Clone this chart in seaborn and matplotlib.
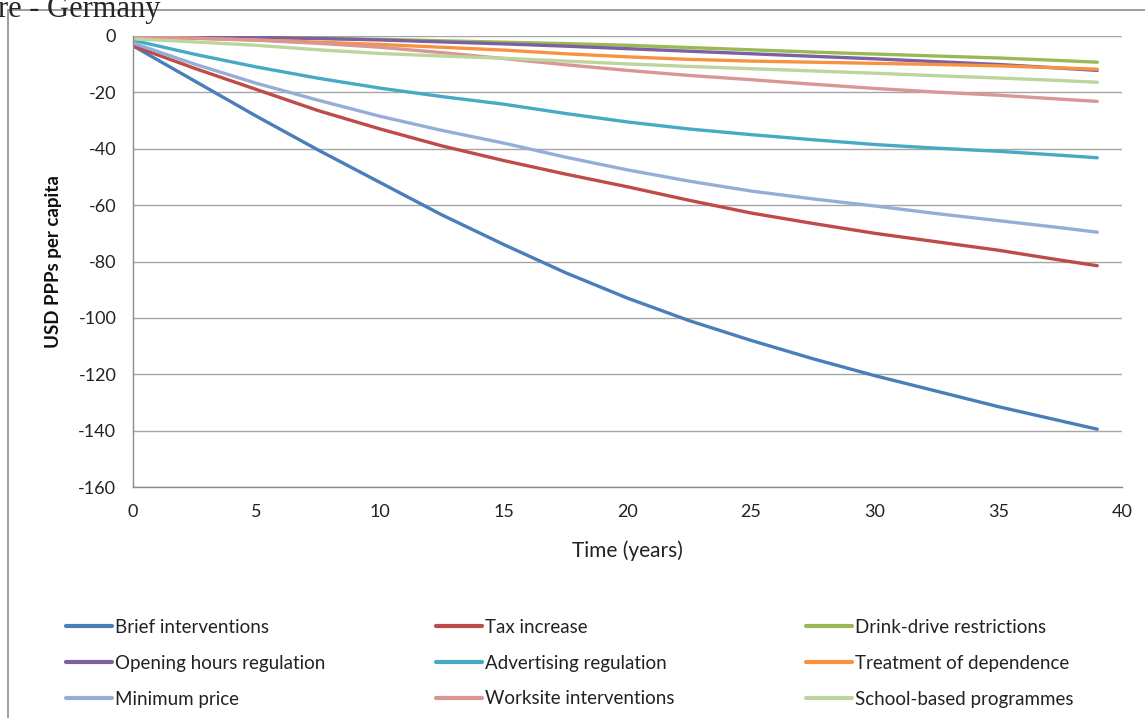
import numpy as np
import pandas as pd
import matplotlib
matplotlib.use("Agg")
import matplotlib.pyplot as plt
from matplotlib.lines import Line2D
from matplotlib.patches import Rectangle
import seaborn as sns

# years sampled off the chart
years = [0, 2.5, 5, 7.5, 10, 12.5, 15, 17.5, 20, 22.5, 25, 27.5, 30, 32.5, 35, 37.5, 39]

brief_interventions = [-3.5, -16, -28.5, -40.5, -52, -63.5, -74, -84, -93, -101,
                       -108, -114.5, -120.5, -126, -131.5, -136.5, -139.5]
tax_increase = [-3.5, -11.5, -19, -26.5, -33, -39, -44.2, -49, -53.5, -58.3,
                -62.8, -66.5, -70, -73, -76, -79.5, -81.5]
drink_drive = [0, -0.2, -0.4, -0.8, -1.2, -1.7, -2.2, -2.7, -3.3, -4.1,
               -4.9, -5.7, -6.4, -7.1, -7.8, -8.7, -9.3]
opening_hours = [0, -0.2, -0.5, -0.9, -1.4, -2.1, -2.8, -3.6, -4.5, -5.4,
                 -6.3, -7.2, -8.1, -9.1, -10.1, -11.4, -12.2]
advertising = [-1.5, -6.5, -11, -15, -18.5, -21.5, -24.2, -27.5, -30.5, -33,
               -35, -36.8, -38.5, -39.8, -40.9, -42.3, -43.2]
treatment = [-0.3, -0.8, -1.4, -2.2, -3.0, -4.0, -5.0, -6.3, -7.4, -8.3,
             -8.9, -9.3, -9.7, -10.1, -10.6, -11.3, -11.8]
minimum_price = [-2.5, -10, -16.8, -22.8, -28.5, -33.5, -38, -43, -47.5, -51.5,
                 -55, -57.8, -60.3, -63, -65.5, -68, -69.6]
worksite = [-0.3, -0.8, -1.5, -2.6, -4.0, -5.9, -8.0, -10.2, -12.2, -14,
            -15.5, -17.1, -18.6, -19.9, -21, -22.4, -23.2]
school_based = [-1, -2.1, -3.3, -4.9, -6.2, -7.1, -7.9, -8.9, -9.9, -10.8,
                -11.6, -12.4, -13.2, -14.1, -14.9, -15.8, -16.4]

series_names = [
    "Brief interventions", "Tax increase", "Drink-drive restrictions",
    "Opening hours regulation", "Advertising regulation", "Treatment of dependence",
    "Minimum price", "Worksite interventions", "School-based programmes",
]
series_values = [
    brief_interventions, tax_increase, drink_drive,
    opening_hours, advertising, treatment,
    minimum_price, worksite, school_based,
]
series_colors = [
    "#4A7EBB", "#BE4B48", "#98B954",
    "#7D60A0", "#46AAC5", "#F69240",
    "#95AED8", "#D99694", "#BCD59C",
]

y_ticks = list(range(-160, 1, 20))
x_ticks = list(range(0, 41, 5))

rows = []
for name, vals in zip(series_names, series_values):
    for yr, v in zip(years, vals):
        rows.append({"year": yr, "value": v, "series": name})
df = pd.DataFrame(rows)

sns.set_style("white")
plt.rcParams["font.family"] = ["Lato", "DejaVu Sans"]
plt.rcParams["axes.unicode_minus"] = False

fig = plt.figure(figsize=(11.45, 7.18), dpi=100)
ax = fig.add_axes([133 / 1145, 1 - 487 / 718, (1122 - 133) / 1145, (487 - 36) / 718])

palette = dict(zip(series_names, series_colors))
sns.lineplot(data=df, x="year", y="value", hue="series", hue_order=series_names,
             palette=palette, linewidth=2.4, legend=False, ax=ax, sort=False,
             solid_capstyle="round", solid_joinstyle="round")

ax.set_xlim(0, 40)
ax.set_ylim(-160, 0)
ax.set_xticks(x_ticks)
ax.set_yticks(y_ticks)
ax.set_xticklabels([str(t) for t in x_ticks])
ax.set_yticklabels([str(t) for t in y_ticks])
ax.yaxis.grid(True, color="#a6a6a6", linewidth=1.0)
ax.xaxis.grid(False)
ax.set_axisbelow(True)
for side in ["top", "right"]:
    ax.spines[side].set_visible(False)
for side in ["left", "bottom"]:
    ax.spines[side].set_color("#8c8c8c")
    ax.spines[side].set_linewidth(1.0)
ax.tick_params(axis="both", direction="out", length=4, width=1, color="#8c8c8c",
               labelsize=13, labelcolor="#222222", pad=8)

ax.set_xlabel("Time (years)", fontsize=15, color="#222222")
ax.xaxis.set_label_coords(0.5, -0.118)
ax.set_ylabel("USD PPPs per capita", fontsize=13.5, fontweight="bold", color="#111111")
ax.yaxis.set_label_coords(-0.072, 0.5)

# legend in three columns placed like the original
handles = [Line2D([0], [0], color=c, linewidth=3, solid_capstyle="round") for c in series_colors]
col_x = [66, 436, 806]
for ci in range(3):
    idx = [ci, ci + 3, ci + 6]
    leg = fig.legend([handles[i] for i in idx], [series_names[i] for i in idx],
                     loc="upper left", bbox_to_anchor=(col_x[ci] / 1145, 1 - 619 / 718),
                     frameon=False, fontsize=13.5, handlelength=2.45, handletextpad=0.15,
                     labelspacing=1.0, borderpad=0, borderaxespad=0)
    for t in leg.get_texts():
        t.set_color("#222222")

# outer chart frame (clipped at the right and bottom like the source)
fig.patches.append(Rectangle((8 / 1145, -0.05), 1.2, 1 - 10 / 718 + 0.05,
                             transform=fig.transFigure, fill=False,
                             edgecolor="#8c8c8c", linewidth=1.2))

# caption fragment, cut at the top edge as in the source image
fig.text(-2 / 1145, 1 - 17 / 718, "re - Germany", fontsize=22,
         family=["Liberation Serif", "DejaVu Serif"], va="baseline", ha="left")

fig.savefig("out.png", dpi=100)
